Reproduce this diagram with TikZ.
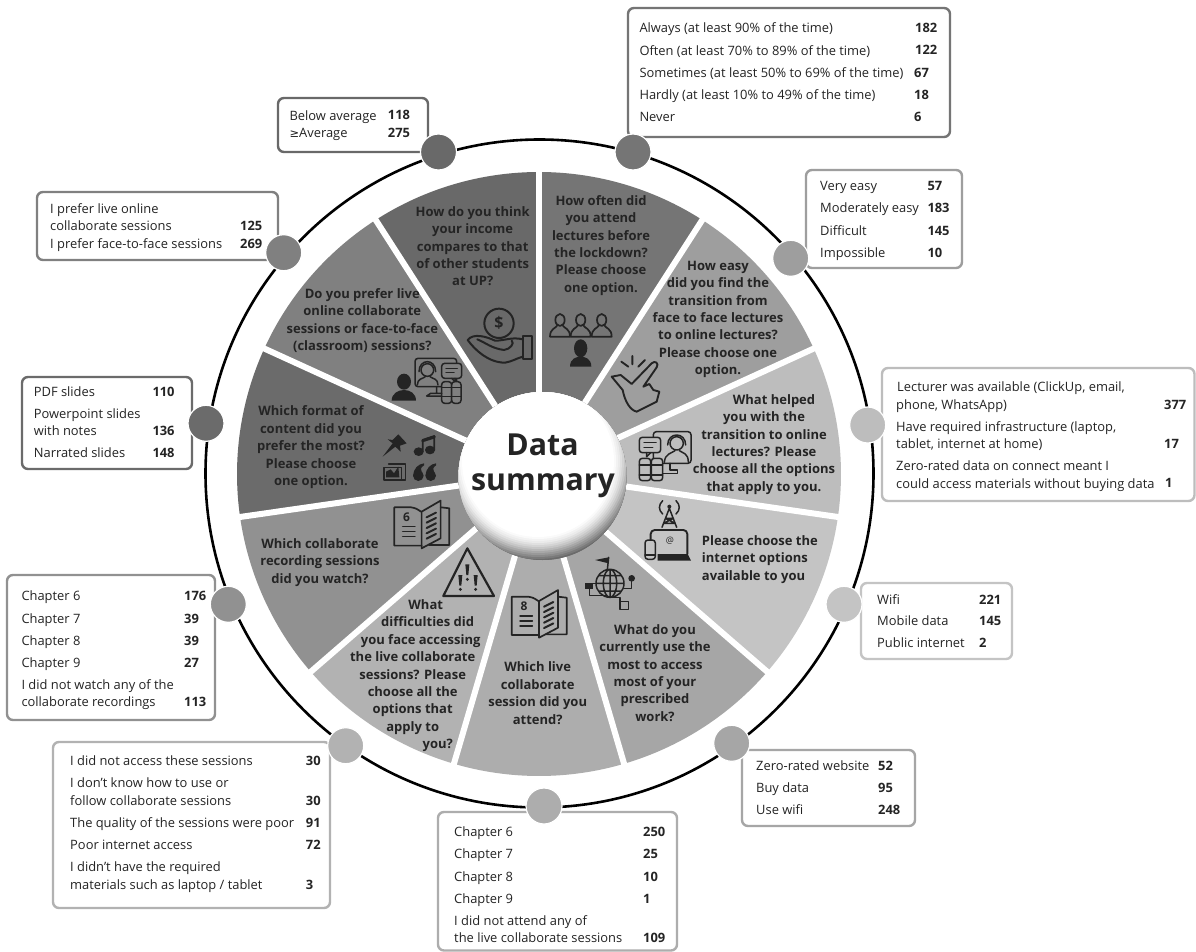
\documentclass[tikz,border=0pt]{standalone}
\usepackage{fontspec}
\setmainfont{Open Sans}
\newfontfamily\symfont{DejaVu Sans}
\usetikzlibrary{calc}
\definecolor{ink}{gray}{0.14}
\definecolor{cOften}{gray}{0.46}
\definecolor{cEasy}{gray}{0.62}
\definecolor{cHelped}{gray}{0.74}
\definecolor{cNet}{gray}{0.77}
\definecolor{cUse}{gray}{0.65}
\definecolor{cLive}{gray}{0.68}
\definecolor{cDiff}{gray}{0.70}
\definecolor{cRec}{gray}{0.57}
\definecolor{cFmt}{gray}{0.42}
\definecolor{cPref}{gray}{0.50}
\definecolor{cInc}{gray}{0.41}
\newcounter{nd}
\newcommand{\rowtxt}[3]{\stepcounter{nd}\node[rowstyle] (r\arabic{nd}) at (#1,#2-12) {\rule{0pt}{12pt}#3};}
\newcommand{\rowval}[3]{\stepcounter{nd}\node[valstyle] (v\arabic{nd}) at (#1,#2) {#3};}
\newcommand{\qtxt}[4]{\node[qstyle] (#1) at (#2,#3-12) {\rule{0pt}{12pt}#4};}
\newcommand{\panel}[6]{\node[panelbox,draw=#6,minimum width={(#4-#2)*1pt},minimum height={(#5-#3)*1pt}] (#1) at (#2,#3) {};}
\newcommand{\bookicon}[4]{%
\begin{scope}[zm={#1}{#2},icon]
\draw[line width=1.7pt] (80,13) .. controls (65,3) .. (50,0) -- (0,0) -- (0,115) -- (82,115);
\draw[line width=1.7pt] (82,13) -- (139,-20) -- (139,93) -- (82,123) -- cycle;
\draw[line width=1.7pt] (139,0) -- (165,3) -- (165,113) -- (105,113);
\node[digit] (#4) at (37,30) {#3};
\foreach \u in {58,73,88} \draw (25,\u) -- (62,\u);
\foreach \u in {30,46,62,78,94} \draw[line width=2pt] (97,\u) -- (125,\u-14);
\end{scope}}
\tikzset{
 zm/.style 2 args={shift={(#1,#2)},x=0.33333pt,y=-0.33333pt},
 icon/.style={draw=ink,line width=1.5pt,line join=round,line cap=round},
 rowstyle/.style={anchor=north west,inner sep=0pt,align=left,text=ink,font=\fontsize{12.9}{17.3}\selectfont},
 valstyle/.style={anchor=base west,inner sep=0pt,text=ink,font=\fontsize{12.9}{17.3}\selectfont\bfseries},
 qstyle/.style={anchor=north,inner sep=0pt,align=center,text=ink,font=\fontsize{13}{17.4}\selectfont\bfseries},
 panelbox/.style={anchor=north west,rectangle,rounded corners=6pt,line width=2.4pt,fill=white,inner sep=0pt,outer sep=0pt},
 dot/.style={circle,draw=white,line width=1.2pt,minimum size=36pt,inner sep=0pt},
 digit/.style={inner sep=0pt,text=ink,font=\fontsize{12}{12}\selectfont\bfseries},
}
\begin{document}
\begin{tikzpicture}[x=1pt,y=-1pt]
\useasboundingbox (0,0) rectangle (1196,952);
\fill[white] (0,0) rectangle (1196,952);

% wheel
\begin{scope}[shift={(539,474)},y=1pt]
\foreach \k/\c in {0/cOften,1/cEasy,2/cHelped,3/cNet,4/cUse,5/cLive,6/cDiff,7/cRec,8/cFmt,9/cPref,10/cInc}{
  \pgfmathsetmacro\aa{90-\k*360/11}
  \pgfmathsetmacro\bb{90-(\k+1)*360/11}
  \fill[\c] (0,0) -- (\aa:302) arc (\aa:\bb:302) -- cycle;
}
\foreach \k in {0,...,10}{
  \pgfmathsetmacro\aa{90-\k*360/11}
  \draw[white,line width=6pt] (0,0) -- (\aa:306);
}
\end{scope}
\draw[black,line width=2.6pt] (539.5,473.5) circle (334);

% panels
\panel{bOften}{628}{8}{950}{137}{cOften}
\panel{bEasy}{806}{170}{962}{268}{cEasy}
\panel{bHelped}{882}{368}{1194.5}{501}{cHelped}
\panel{bNet}{861}{583}{1012}{659}{cNet}
\panel{bUse}{742}{750}{915}{826}{cUse}
\panel{bLive}{438}{812}{677}{950.5}{cLive}
\panel{bDiff}{53}{742}{330}{908}{cDiff}
\panel{bRec}{7}{575}{215}{720}{cRec}
\panel{bFmt}{22}{377}{192}{469}{cFmt}
\panel{bPref}{37}{192}{278}{260}{cPref}
\panel{bInc}{278}{98}{428}{152}{cInc}

% panel rows
\rowtxt{639.3}{32.7}{Always (at least 90\% of the time)}\rowval{915}{32.7}{182}
\rowtxt{639.3}{55}{Often (at least 70\% to 89\% of the time)}\rowval{915}{55}{122}
\rowtxt{639.3}{77.3}{Sometimes (at least 50\% to 69\% of the time)}\rowval{914}{77.3}{67}
\rowtxt{639.3}{99.3}{Hardly (at least 10\% to 49\% of the time)}\rowval{914}{99.3}{18}
\rowtxt{639.3}{121.3}{Never}\rowval{914}{121.3}{6}

\rowtxt{820}{190.7}{Very easy}\rowval{927.3}{190.7}{57}
\rowtxt{820}{212.7}{Moderately easy}\rowval{927.3}{212.7}{183}
\rowtxt{820}{235}{Difficult}\rowval{927.3}{235}{145}
\rowtxt{820}{257}{Impossible}\rowval{927.3}{257}{10}

\rowtxt{896}{391.7}{\hspace*{1pt}Lecturer was available (ClickUp, email,\\phone, WhatsApp)}\rowval{1164}{409}{377}
\rowtxt{896}{431}{Have required infrastructure (laptop,\\tablet, internet at home)}\rowval{1164}{448}{17}
\rowtxt{896}{470.7}{Zero-rated data on connect meant I\\could access materials without buying data}\rowval{1165}{487.5}{1}

\rowtxt{877}{604}{Wifi}\rowval{979}{604}{221}
\rowtxt{877}{625.7}{Mobile data}\rowval{979}{625.7}{145}
\rowtxt{877}{647.7}{Public internet}\rowval{979}{647.7}{2}

\rowtxt{756}{770}{Zero-rated website}\rowval{878}{770}{52}
\rowtxt{756}{792}{Buy data}\rowval{878}{792}{95}
\rowtxt{756}{814}{Use wifi}\rowval{878}{814}{248}

\rowtxt{454}{836.7}{Chapter 6}\rowval{643}{836.7}{250}
\rowtxt{454}{858.7}{Chapter 7}\rowval{643}{858.7}{25}
\rowtxt{454}{881}{Chapter 8}\rowval{643}{881}{10}
\rowtxt{454}{903}{Chapter 9}\rowval{643}{903}{1}
\rowtxt{454}{925}{I did not attend any of\\the live collaborate sessions}\rowval{643}{942}{109}

\rowtxt{70}{765.7}{I did not access these sessions}\rowval{305.7}{765.7}{30}
\rowtxt{70}{787.7}{I don’t know how to use or\\follow collaborate sessions}\rowval{305.7}{805}{30}
\rowtxt{70}{827}{The quality of the sessions were poor}\rowval{305.7}{827}{91}
\rowtxt{70}{849}{Poor internet access}\rowval{305.7}{849}{72}
\rowtxt{70}{871.7}{I didn’t have the required\\materials such as laptop / tablet}\rowval{305.7}{889}{3}

\rowtxt{21.3}{600.7}{Chapter 6}\rowval{184}{600.7}{176}
\rowtxt{21.3}{623}{Chapter 7}\rowval{184}{623}{39}
\rowtxt{21.3}{645}{Chapter 8}\rowval{184}{645}{39}
\rowtxt{21.3}{667}{Chapter 9}\rowval{184}{667}{27}
\rowtxt{21.3}{689}{I did not watch any of the\\collaborate recordings}\rowval{184}{706.7}{113}

\rowtxt{33.7}{396}{PDF slides}\rowval{152.3}{396}{110}
\rowtxt{33.7}{418}{Powerpoint slides\\with notes}\rowval{152.3}{435.7}{136}
\rowtxt{33.7}{457.7}{Narrated slides}\rowval{152.3}{457.7}{148}

\rowtxt{50}{213.3}{I prefer live online\\collaborate sessions}\rowval{240}{230.7}{125}
\rowtxt{50}{248}{I prefer face-to-face sessions}\rowval{240}{248}{269}

\rowtxt{289.3}{120}{Below average}\rowval{387.7}{120}{118}
\rowtxt{289.3}{137.3}{{\symfont\fontsize{11.5}{17.3}\selectfont ≥}Average}\rowval{387.7}{137.3}{275}

% dots
\node[dot,fill=cOften] (dOften) at (633,152) {};
\node[dot,fill=cEasy] (dEasy) at (790.7,258.3) {};
\node[dot,fill=cHelped] (dHelped) at (867.7,425) {};
\node[dot,fill=cNet] (dNet) at (844,604.3) {};
\node[dot,fill=cUse] (dUse) at (731.7,743.3) {};
\node[dot,fill=cLive] (dLive) at (544,806) {};
\node[dot,fill=cDiff] (dDiff) at (345.7,745.7) {};
\node[dot,fill=cRec] (dRec) at (228.3,604.3) {};
\node[dot,fill=cFmt] (dFmt) at (206,423.3) {};
\node[dot,fill=cPref] (dPref) at (283.7,252.7) {};
\node[dot,fill=cInc] (dInc) at (438.5,152) {};

% questions
\qtxt{qInc}{472.7}{216}{How do you think\\your income\\compares to that\\of other students\\at UP?}
\qtxt{qOften}{601}{205}{How often did\\you attend\\lectures before\\the lockdown?\\Please choose\\one option.}
\qtxt{qEasy}{718}{270}{How easy\\did you find the\\transition from\\face to face lectures\\to online lectures?\\Please choose one\\option.}
\qtxt{qHelped}{764}{404}{\hspace*{20pt}What helped\\you with the\\transition to online\\lectures? Please\\choose all the options\\that apply to you.}
\node[qstyle,anchor=north west,align=left] (qNet) at (701.7,545-12) {\rule{0pt}{12pt}Please choose the\\internet options\\available to you};
\qtxt{qUse}{655}{634}{What do you\\currently use the\\most to access\\most of your\\prescribed\\work?}
\qtxt{qLive}{537.7}{671.7}{Which live\\collaborate\\session did you\\attend?}
\qtxt{qDiff}{412.7}{609.3}{\hspace*{26pt}What\\\hspace*{30pt}difficulties did\\\hspace*{16pt}you face accessing\\the live collaborate\\sessions? Please\\choose all the\\options that\\apply to\\\hspace*{50pt}you?}
\qtxt{qRec}{320}{548.3}{Which collaborate\\recording sessions\\did you watch?}
\qtxt{qFmt}{311}{415.7}{Which format of\\content did you\\prefer the most?\\Please choose\\one option.}
\qtxt{qPref}{362.3}{298.3}{Do you prefer live\\online collaborate\\sessions or face-to-face\\(classroom) sessions?}

% centre sphere
\begin{scope}
\clip (542.5,476) circle (84);
\fill[black!62] (542.5,476) circle (85);
\foreach \r/\p in {100/58,98/52,96/46,94/40,92/34,90/28,88/22,86/17,84/12,82/8,80/5,78/2,76/0}{
  \fill[black!\p] (538,461) circle (\r);
}
\end{scope}
\node[inner sep=0pt,anchor=base,text=ink,font=\fontsize{30.3}{35}\selectfont\bfseries] (cData) at (542.5,455) {Data};
\node[inner sep=0pt,anchor=base,text=ink,font=\fontsize{30.3}{35}\selectfont\bfseries] (cSum) at (543,490) {summary};

% hand with coin
\begin{scope}[zm={380}{180},icon]
\draw[line width=2pt] (357,430) circle (44);
\node[inner sep=0pt,text=ink,font=\fontsize{16}{16}\selectfont\bfseries] (dollar) at (357,430) {\$};
\draw[line width=1.8pt] (428,468) rectangle (455,537);
\draw[line width=2pt] (428,478) .. controls (395,470) and (375,482) .. (345,482) .. controls (320,470) and (280,458) .. (263,480) .. controls (285,510) and (325,548) .. (375,548) .. controls (395,545) and (410,535) .. (428,530);
\draw[line width=2pt] (292,478) .. controls (320,490) and (335,505) .. (372,510) .. controls (390,508) and (405,490) .. (395,482);
% audience
\foreach \u in {540,602,665}{
  \draw[line width=1.7pt] (\u,420) ellipse (14 and 18);
  \draw[line width=1.7pt] (\u-30,470) .. controls (\u-30,445) and (\u-12,445) .. (\u-8,436) (\u+8,436) .. controls (\u+12,445) and (\u+30,445) .. (\u+30,470) -- (\u-30,470);
}
\fill[ink] (602,505) ellipse (20 and 27);
\fill[ink] (570,560) .. controls (570,535) and (590,530) .. (602,530) .. controls (614,530) and (634,535) .. (634,560) -- cycle;
% snap hand
\draw[line width=1.9pt] (695,590) -- (722,585) -- (755,612) -- (815,550) .. controls (825,540) and (838,550) .. (830,562) -- (790,620) -- (808,612) -- (820,630) -- (838,635) -- (830,665) -- (770,695) .. controls (750,690) and (735,665) .. (728,630) -- cycle;
\draw[line width=1.9pt] (724,545) -- (745,560) (757,528) -- (757,553) (795,540) -- (775,560);
\end{scope}

% video call (helped)
\begin{scope}[zm={620}{330},icon]
\draw[rounded corners=3pt] (100,305) rectangle (213,400);
\draw (170,340) circle (20);
\draw (143,345) .. controls (143,305) and (197,305) .. (197,345);
\draw (133,397) .. controls (135,370) and (155,370) .. (165,362) (178,362) .. controls (190,370) and (205,370) .. (205,397);
\draw[fill=cHelped,rounded corners=3pt] (58,322) rectangle (122,368);
\draw (80,368) -- (80,380) -- (92,368);
\draw (72,338) -- (108,338) (72,352) -- (98,352);
\draw[fill=cHelped,rounded corners=3pt] (58,385) rectangle (92,452);
\draw[fill=cHelped,rounded corners=3pt] (94,385) rectangle (128,452);
\draw (58,405) -- (128,405) (58,435) -- (128,435);
\draw (150,400) -- (150,420) (128,430) -- (172,430) -- (172,420) -- (150,420);
\end{scope}

% antenna + laptop
\begin{scope}[zm={620}{330},icon]
\draw (148,535) -- (126,592) (148,535) -- (170,592) (136,565) -- (160,565) (131,580) -- (165,580) (136,565) -- (165,580) (160,565) -- (131,580);
\fill[ink] (148,530) circle (6);
\draw (128,512) .. controls (115,525) and (115,540) .. (128,552) (168,512) .. controls (181,525) and (181,540) .. (168,552);
\draw[line width=1.9pt,rounded corners=4pt] (92,672) -- (92,600) -- (202,600) -- (202,672);
\node[inner sep=0pt,text=ink,font=\fontsize{9}{9}\selectfont] (at) at (150,632) {@};
\fill[ink] (113,672) -- (203,672) -- (213,692) -- (113,692) -- cycle;
\draw[fill=cNet,rounded corners=3pt] (75,630) rectangle (106,688);
\draw (75,675) -- (106,675);
\end{scope}

% globe network, warning triangle
\begin{scope}[zm={300}{520},icon]
\draw (930,190) circle (42) (930,190) ellipse (20 and 42) (888,190) -- (972,190) (930,148) -- (930,232) (895,167) -- (965,167) (895,213) -- (965,213);
\draw (922,150) -- (926,112);
\fill[ink] (926,112) -- (926,130) -- (885,120) -- cycle;
\draw (888,190) -- (868,190) (868,205) -- (868,226) -- (918,226);
\fill[ink] (856,188) rectangle (878,208);
\draw (972,205) -- (995,205) -- (995,178);
\fill[ink] (995,175) circle (10);
\draw (930,232) -- (960,232) -- (960,245);
\draw (960,245) rectangle (986,268);
\draw[line width=2.2pt] (502,85) -- (430,228) -- (582,228) -- cycle;
\fill[ink] (475,165) -- (487,165) -- (484,197) -- (478,197) -- cycle;
\fill[ink] (521,165) -- (533,165) -- (530,197) -- (524,197) -- cycle;
\fill[ink] (496,133) -- (508,133) -- (505,165) -- (499,165) -- cycle;
\fill[ink] (481,208) circle (5) (527,208) circle (5) (502,178) circle (5);
\end{scope}

% books
\bookicon{394.3}{507.3}{6}{digitSix}
\bookicon{511.7}{596.7}{8}{digitEight}

% format icons and person + video
\begin{scope}[zm={200}{280},icon]
\fill[ink] (548,530) -- (578,490) -- (563,478) -- (578,480) -- (595,463) -- (620,490) -- (600,497) -- (602,515) -- (586,500) -- cycle;
\fill[ink] (656,515) ellipse (15 and 13) (690,510) ellipse (15 and 13);
\draw[line width=1.8pt] (668,515) -- (668,480) -- (703,468) -- (703,510);
\draw[line width=3pt] (668,482) -- (703,471);
\draw (566,552) -- (616,552) -- (616,600) -- (566,600);
\draw[fill=cFmt] (552,562) rectangle (604,600);
\fill[ink] (558,592) -- (558,575) -- (572,568) -- (582,580) -- (595,560) -- (598,592) -- cycle;
\fill[ink] (655,587) circle (16) (692,587) circle (16);
\fill[ink] (640,587) .. controls (640,565) and (655,552) .. (672,550) -- (672,556) .. controls (662,562) and (660,570) .. (665,575) -- cycle;
\fill[ink] (677,587) .. controls (677,565) and (692,552) .. (708,550) -- (708,556) .. controls (699,562) and (697,570) .. (702,575) -- cycle;
% person + video call (prefer)
\fill[ink] (612,305) ellipse (21 and 24);
\fill[ink] (575,362) .. controls (575,340) and (595,330) .. (612,330) .. controls (630,330) and (648,340) .. (648,362) -- cycle;
\draw[rounded corners=3pt] (645,235) rectangle (770,320);
\draw (682,270) circle (19);
\draw (657,275) .. controls (657,235) and (707,235) .. (707,275);
\draw (652,315) .. controls (652,295) and (668,297) .. (676,290) (690,290) .. controls (698,297) and (714,295) .. (714,315);
\draw[fill=cPref,rounded corners=3pt] (725,250) rectangle (785,295);
\draw (738,265) -- (772,265) (738,278) -- (762,278);
\draw (765,295) -- (765,305) -- (755,295);
\draw[fill=cPref,rounded corners=3pt] (725,305) rectangle (755,370);
\draw[fill=cPref,rounded corners=3pt] (755,305) rectangle (783,370);
\draw (725,322) -- (783,322) (725,350) -- (783,350);
\draw (710,320) -- (710,340) (680,348) -- (725,348) (680,348) -- (692,340) -- (725,340);
\end{scope}
\end{tikzpicture}
\end{document}
